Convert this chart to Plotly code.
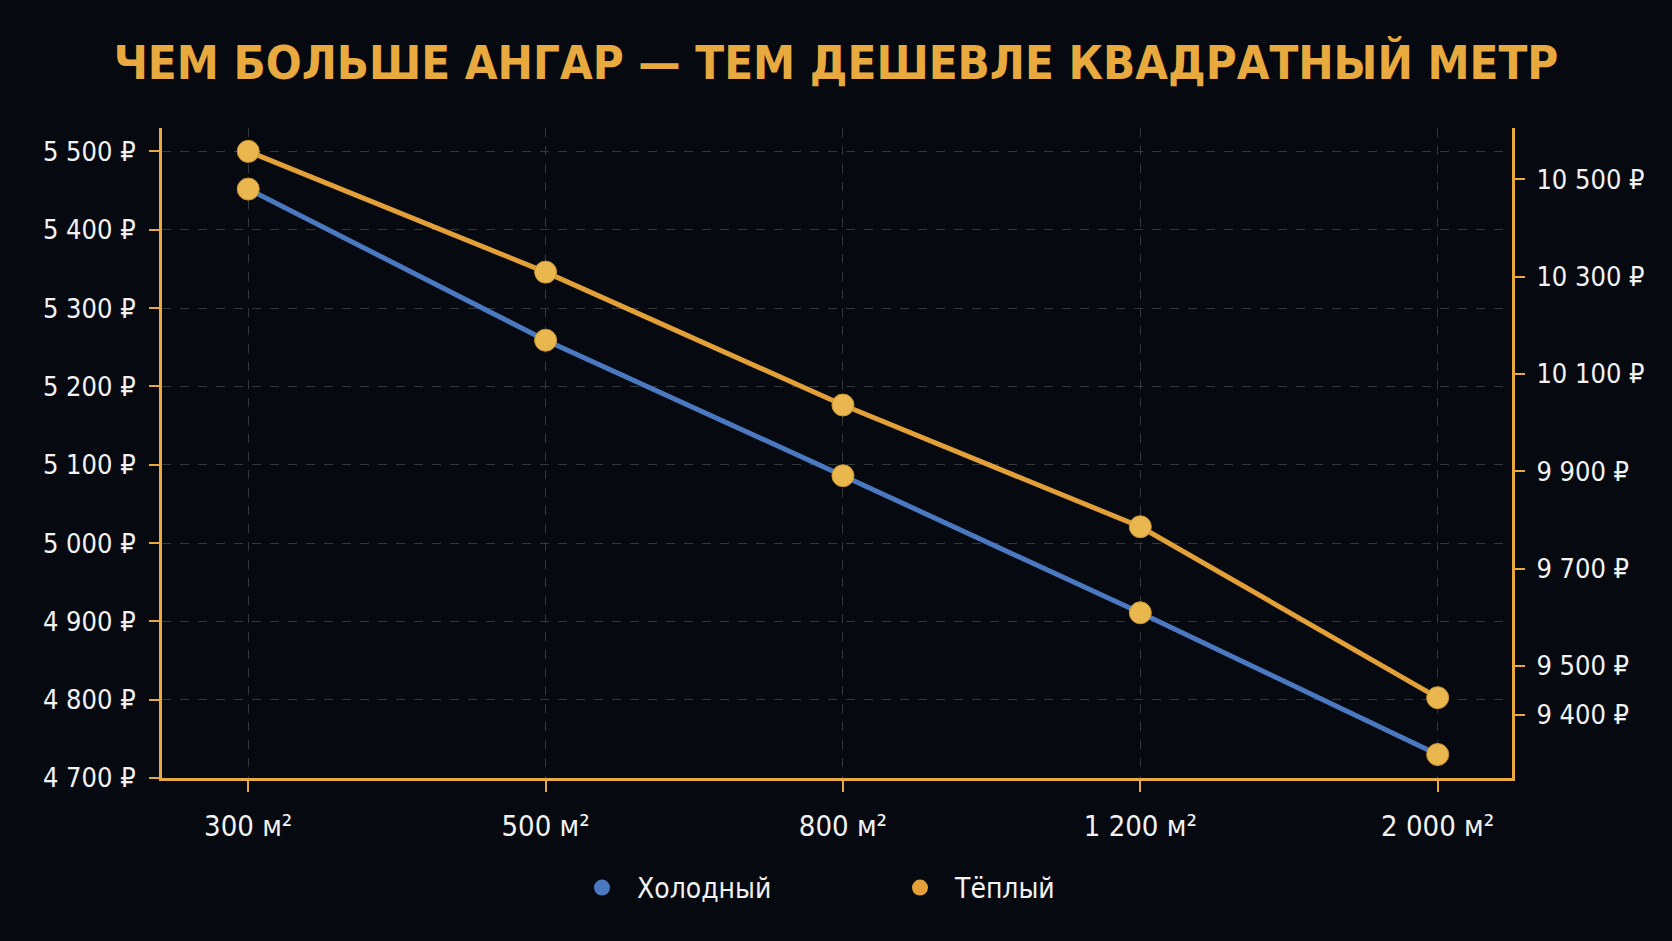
import plotly.graph_objects as go

# ---- data ----
areas = ["300 м²", "500 м²", "800 м²", "1 200 м²", "2 000 м²"]
cold_prices = [5452, 5259, 5086, 4911, 4730]      # left axis, ₽/м²
warm_prices = [10557, 10309, 10036, 9786, 9435]   # right axis, ₽/м²
left_ticks = [4700, 4800, 4900, 5000, 5100, 5200, 5300, 5400, 5500]
right_ticks = [9400, 9500, 9700, 9900, 10100, 10300, 10500]
series_names = ["Холодный", "Тёплый"]
title_text = "ЧЕМ БОЛЬШЕ АНГАР — ТЕМ ДЕШЕВЛЕ КВАДРАТНЫЙ МЕТР"


def rub(v):
    return f"{v:,}".replace(",", " ") + " ₽"


left_text = [rub(v) for v in left_ticks]
right_text = [rub(v) for v in right_ticks]

# ---- style ----
BG = "#060A10"
GOLD = "#E8A93F"
BLUE = "#4A79C1"
ORANGE = "#E3A038"
MARKER = "#EAB74E"
GRID = "#34383D"
TXT = "#F2F2F2"
FONT = "DejaVu Sans Condensed, DejaVu Sans, Noto Sans, sans-serif"

xidx = list(range(len(areas)))
XR = [-0.29, 4.25]
YL = [4700, 5530]
YR = [9270, 10605]

fig = go.Figure()
fig.add_trace(go.Scatter(
    x=areas, y=cold_prices, mode="lines+markers", name=series_names[0],
    line=dict(color=BLUE, width=5),
    marker=dict(size=22, color=MARKER, line=dict(color="#C99530", width=1)),
    showlegend=False, yaxis="y", xaxis="x"))
fig.add_trace(go.Scatter(
    x=areas, y=warm_prices, mode="lines+markers", name=series_names[1],
    line=dict(color=ORANGE, width=5),
    marker=dict(size=22, color=MARKER, line=dict(color="#C99530", width=1)),
    showlegend=False, yaxis="y2", xaxis="x"))
# legend entries
for nm, col in zip(series_names, [BLUE, ORANGE]):
    fig.add_trace(go.Scatter(x=[None], y=[None], mode="markers", name=nm,
                             marker=dict(size=30, color=col), showlegend=True))

axis_common = dict(showline=True, linecolor=GOLD, linewidth=3, zeroline=False,
                   tickcolor=GOLD, tickwidth=2)

fig.update_layout(
    width=1672, height=941,
    paper_bgcolor=BG, plot_bgcolor=BG,
    margin=dict(l=162, r=160, t=128, b=163),
    title=dict(text=title_text, x=0.5, xanchor="center", y=0.934, yanchor="middle",
               font=dict(family=FONT, size=47, color=GOLD, weight="bold")),
    xaxis=dict(**axis_common, type="category", categoryorder="array", categoryarray=areas,
               range=XR, ticks="outside", ticklen=11, ticklabelstandoff=9,
               tickfont=dict(family=FONT, size=29, color=TXT),
               showgrid=True, gridcolor=GRID, griddash="dash", gridwidth=1),
    xaxis2=dict(overlaying="x", range=XR, type="linear", tickmode="array", tickvals=xidx,
                ticks="inside", ticklen=9, tickcolor=GOLD, tickwidth=2,
                showticklabels=False, showgrid=False, showline=False, zeroline=False),
    yaxis=dict(**axis_common, range=YL, tickmode="array", tickvals=left_ticks,
               ticktext=left_text, ticks="outside", ticklen=10, ticklabelstandoff=8,
               tickfont=dict(family=FONT, size=27, color=TXT),
               showgrid=True, gridcolor=GRID, griddash="dash", gridwidth=1),
    yaxis2=dict(**axis_common, overlaying="y", side="right", range=YR, tickmode="array",
                tickvals=right_ticks, ticktext=right_text, ticks="outside",
                ticklen=10, ticklabelstandoff=6, showgrid=False,
                tickfont=dict(family=FONT, size=27, color=TXT)),
    yaxis3=dict(overlaying="y", side="left", range=YL, tickmode="array", tickvals=left_ticks,
                ticks="inside", ticklen=10, tickcolor=GOLD, tickwidth=2,
                showticklabels=False, showgrid=False, showline=False, zeroline=False),
    yaxis4=dict(overlaying="y", side="right", range=YR, tickmode="array", tickvals=right_ticks,
                ticks="inside", ticklen=10, tickcolor=GOLD, tickwidth=2,
                showticklabels=False, showgrid=False, showline=False, zeroline=False),
    legend=dict(orientation="h", x=0.300, xanchor="left", y=-0.169, yanchor="middle",
                font=dict(family=FONT, size=28, color=TXT), entrywidth=243,
                itemwidth=60, bgcolor="rgba(0,0,0,0)"),
)

fig.write_html("out.html")
